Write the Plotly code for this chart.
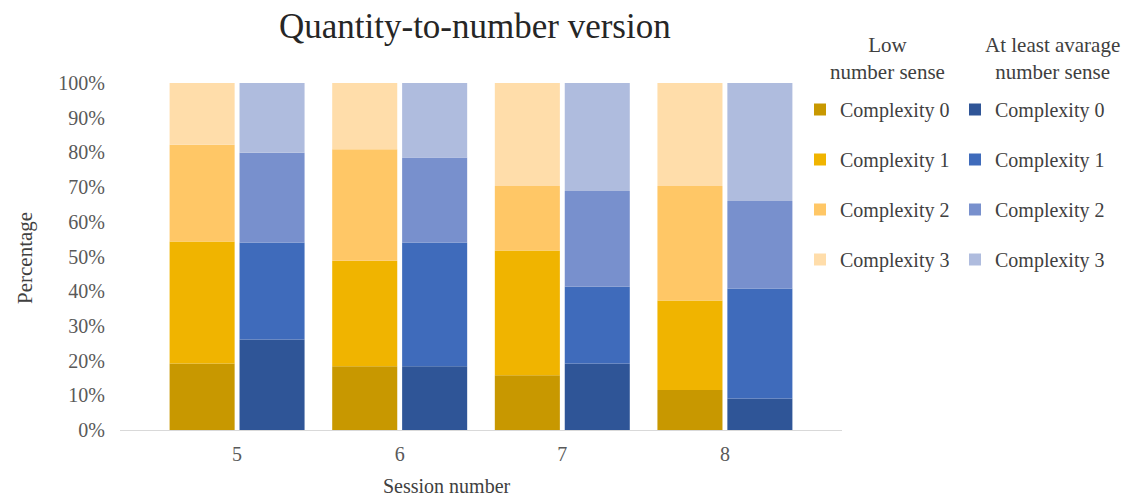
import numpy as np
import plotly.graph_objects as go

# Sessions on the x axis
sessions = ["5", "6", "7", "8"]
complexity_levels = ["Complexity 0", "Complexity 1", "Complexity 2", "Complexity 3"]

# Share of tasks (%) per complexity level, low number sense group
low_c0 = [19.2, 18.4, 15.8, 11.5]
low_c1 = [35.1, 30.4, 35.9, 25.8]
low_c2 = [27.9, 32.1, 18.6, 33.0]
low_c3 = [17.8, 19.1, 29.7, 29.7]

# Share of tasks (%) per complexity level, at least average number sense group
avg_c0 = [26.1, 18.4, 19.2, 9.1]
avg_c1 = [27.9, 35.6, 22.1, 31.7]
avg_c2 = [25.9, 24.5, 27.6, 25.2]
avg_c3 = [20.1, 21.5, 31.1, 34.0]

y_ticks = [0, 10, 20, 30, 40, 50, 60, 70, 80, 90, 100]
y_tick_labels = ["0%", "10%", "20%", "30%", "40%", "50%",
                 "60%", "70%", "80%", "90%", "100%"]

low_colors = ["#C89800", "#F0B400", "#FFC766", "#FFDDAA"]
avg_colors = ["#2F5597", "#3F6BBB", "#7890CD", "#AFBCDE"]

FONT = "Liberation Serif, Times New Roman, serif"
BAR_W = 0.4
INNER_GAP = 0.015

# Page geometry of the plotting area (pixels)
W, H = 1133, 499
L, R, T, B = 120, 291, 83, 69
PW, PH = W - L - R, H - T - B

fig = go.Figure()


def add_group(series, colors, offset, legend):
    base = np.zeros(len(sessions))
    for name, vals, col in zip(complexity_levels, series, colors):
        vals = np.array(vals, dtype=float)
        fig.add_trace(go.Bar(
            x=sessions, y=vals, base=base.copy(),
            width=BAR_W, offset=offset,
            marker=dict(color=col, line=dict(width=0)),
            name=name, legend=legend, legendgroup=legend + name,
            hovertemplate="%{y:.1f}%<extra>" + name + "</extra>",
        ))
        base = base + vals


add_group([low_c0, low_c1, low_c2, low_c3], low_colors, -BAR_W - INNER_GAP, "legend")
add_group([avg_c0, avg_c1, avg_c2, avg_c3], avg_colors, INNER_GAP, "legend2")

legend_common = dict(
    font=dict(family=FONT, size=20, color="#404040"),
    traceorder="grouped", tracegroupgap=21,
    yanchor="top", xanchor="left", bgcolor="rgba(0,0,0,0)",
    itemclick=False, itemdoubleclick=False,
    y=1 + (T - 90) / PH,
)


def px_x(x):
    return (x - L) / PW


def px_y(y):
    return (H - B - y) / PH


def text_at(text, x, y, size, color, angle=0):
    return dict(text=text, x=px_x(x), y=px_y(y), xref="paper", yref="paper",
                xanchor="center", yanchor="middle", showarrow=False,
                textangle=angle, font=dict(family=FONT, size=size, color=color))


fig.update_layout(
    width=W, height=H,
    margin=dict(l=L, r=R, t=T, b=B),
    plot_bgcolor="white", paper_bgcolor="white",
    barmode="overlay",
    showlegend=True,
    font=dict(family=FONT, color="#595959"),
    xaxis=dict(
        type="category", range=[-0.72, 3.72],
        showline=True, linecolor="#D9D9D9", linewidth=1,
        showgrid=False, ticks="", zeroline=False,
        tickfont=dict(family=FONT, size=20, color="#595959"),
        ticklabelstandoff=6,
    ),
    yaxis=dict(
        range=[0, 100], tickmode="array",
        tickvals=y_ticks, ticktext=y_tick_labels,
        showgrid=False, showline=False, zeroline=False, ticks="",
        tickfont=dict(family=FONT, size=20, color="#595959"),
        ticklabelstandoff=14,
    ),
    legend=dict(x=px_x(800), **legend_common),
    legend2=dict(x=px_x(955), **legend_common),
    annotations=[
        text_at("Quantity-to-number version", 475, 26, 35, "#262626"),
        text_at("Session number", 447, 486, 20, "#404040"),
        text_at("Percentage", 25, 258, 21, "#404040", angle=-90),
        text_at("Low<br>number sense", 887, 58, 21, "#404040"),
        text_at("At least avarage<br>number sense", 1052, 58, 21, "#404040"),
    ],
)

fig.write_html("out.html")
